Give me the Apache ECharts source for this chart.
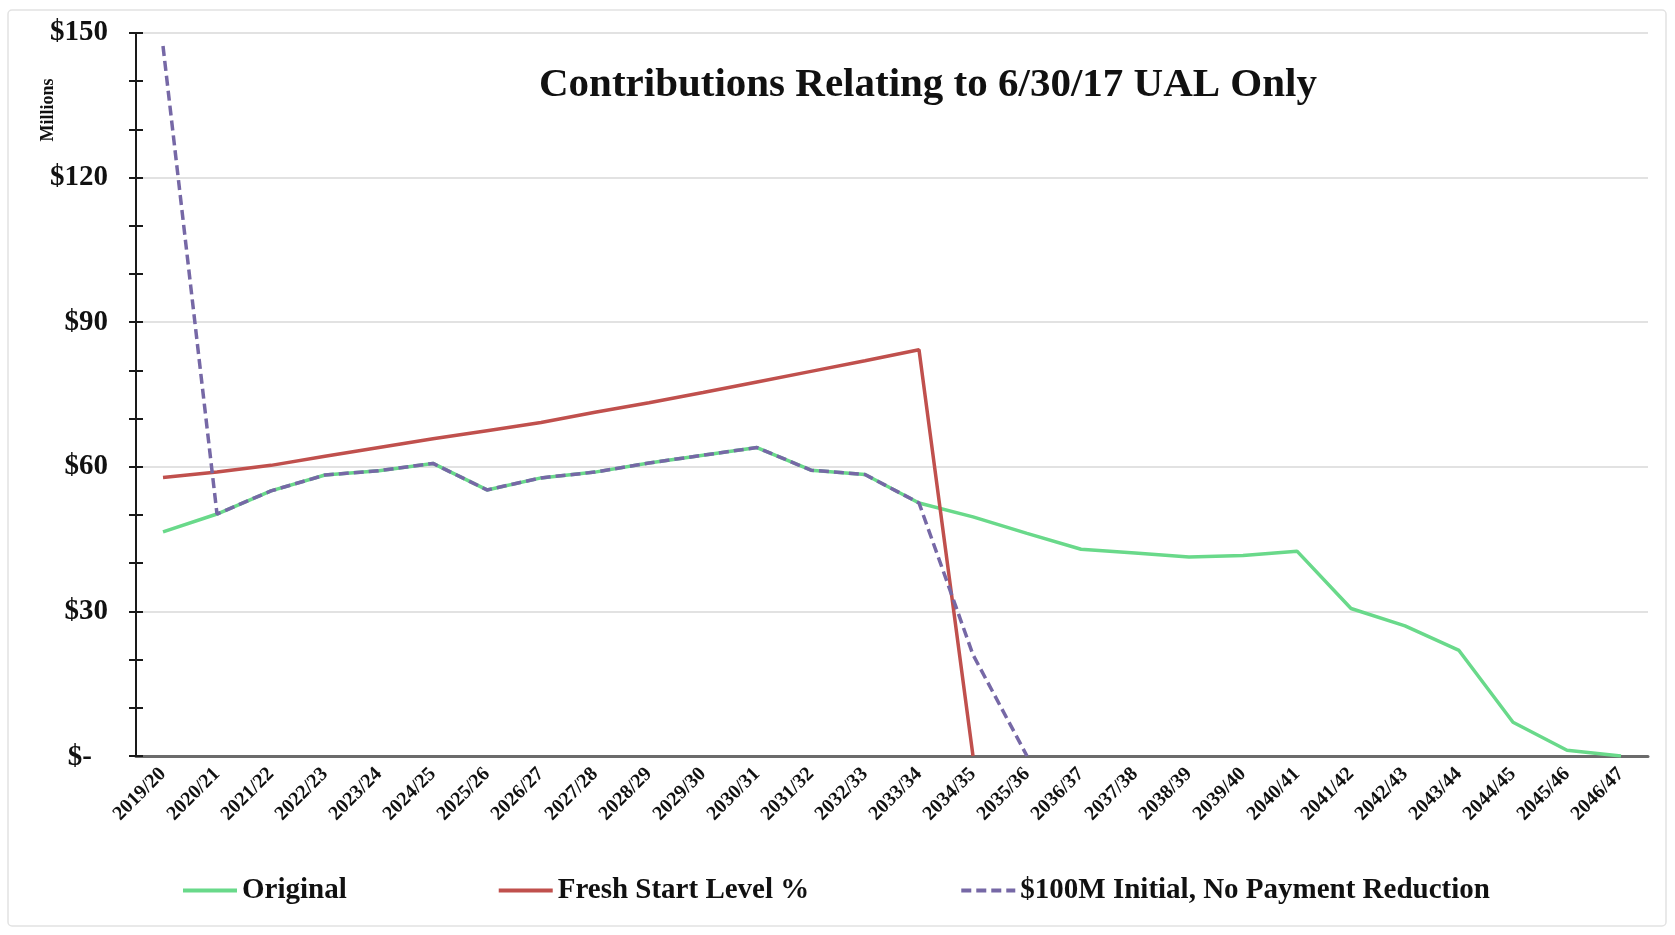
<!DOCTYPE html>
<html>
<head>
<meta charset="utf-8">
<script src="https://cdn.jsdelivr.net/npm/echarts@6/dist/echarts.min.js"></script>
<style>
  html, body { margin: 0; padding: 0; background: #ffffff; }
  #chart { width: 1675px; height: 935px; }
</style>
</head>
<body>
<div id="chart"></div>
<script>
// Fiscal years on the horizontal axis
const categories = [
  '2019/20', '2020/21', '2021/22', '2022/23', '2023/24', '2024/25', '2025/26',
  '2026/27', '2027/28', '2028/29', '2029/30', '2030/31', '2031/32', '2032/33',
  '2033/34', '2034/35', '2035/36', '2036/37', '2037/38', '2038/39', '2039/40',
  '2040/41', '2041/42', '2042/43', '2043/44', '2044/45', '2045/46', '2046/47'
];

// Contributions, $ millions
const original = [
  46.5, 50.2, 55.0, 58.3, 59.2, 60.7, 55.2, 57.7, 58.9, 60.8, 62.4, 64.0, 59.3, 58.4,
  52.5, 49.6, 46.2, 42.9, 42.1, 41.3, 41.6, 42.5, 30.6, 27.0, 21.9, 7.0, 1.2, 0.0
];
const freshStart = [
  57.8, 58.9, 60.3, 62.2, 64.0, 65.8, 67.5, 69.2, 71.3, 73.3, 75.4, 77.6, 79.8, 82.0,
  84.3, 0.0, null, null, null, null, null, null, null, null, null, null, null, null
];
const initial100M = [
  147.3, 50.2, 55.0, 58.3, 59.2, 60.7, 55.2, 57.7, 58.9, 60.8, 62.4, 64.0, 59.3, 58.4,
  52.5, 21.0, 0.0, null, null, null, null, null, null, null, null, null, null, null
];

// Value-axis tick labels (0, 30, 60, 90, 120, 150)
const yTickValues = [0, 30, 60, 90, 120, 150];
const yTickLabels = ['$-', '$30', '$60', '$90', '$120', '$150'];

const seriesNames = ['Original', 'Fresh Start Level %', '$100M Initial, No Payment Reduction'];

const serif = '"Liberation Serif", "Times New Roman", serif';

const chart = echarts.init(document.getElementById('chart'));

const yCommon = {
  type: 'value',
  min: 0,
  max: 150,
  interval: 30
};

chart.setOption({
  backgroundColor: '#ffffff',
  animation: false,
  title: {
    text: 'Contributions Relating to 6/30/17 UAL Only',
    left: 534,
    top: 60,
    textStyle: { fontFamily: serif, fontWeight: 'bold', fontSize: 41, color: '#111111' }
  },
  graphic: [
    {
      type: 'rect',
      shape: { x: 8, y: 10, width: 1658, height: 916, r: 4 },
      style: { fill: 'none', stroke: '#e2e2e2', lineWidth: 1.5 },
      silent: true,
      z: -1
    },
    {
      type: 'text',
      x: 48,
      y: 110,
      rotation: Math.PI / 2,
      style: {
        text: 'Millions',
        fontFamily: serif,
        fontWeight: 'bold',
        fontSize: 18,
        fill: '#111111',
        align: 'center',
        verticalAlign: 'middle'
      }
    }
  ],
  legend: {
    data: seriesNames,
    left: 176,
    top: 871,
    itemWidth: 54,
    itemHeight: 14,
    itemGap: 150,
    itemStyle: { opacity: 0 },
    lineStyle: { width: 4 },
    textStyle: { fontFamily: serif, fontWeight: 'bold', fontSize: 29, color: '#111111' }
  },
  grid: {
    left: 136,
    right: 27,
    top: 33,
    bottom: 179,
    containLabel: false
  },
  xAxis: {
    type: 'category',
    data: categories,
    boundaryGap: true,
    axisLine: { show: true, lineStyle: { color: '#6b6b6b', width: 3 } },
    axisTick: { show: false },
    axisLabel: {
      interval: 0,
      rotate: 45,
      margin: 15,
      fontFamily: serif,
      fontWeight: 'bold',
      fontSize: 20,
      color: '#111111'
    }
  },
  yAxis: [
    Object.assign({}, yCommon, {
      position: 'left',
      axisLine: { show: true, lineStyle: { color: '#1a1a1a', width: 2 } },
      axisTick: { show: true, length: 7, lineStyle: { color: '#1a1a1a', width: 2 } },
      minorTick: { show: true, splitNumber: 3, length: 7, lineStyle: { color: '#1a1a1a', width: 2 } },
      splitLine: { show: true, lineStyle: { color: '#d9d9d9', width: 1.5 } },
      axisLabel: {
        margin: 28,
        fontFamily: serif,
        fontWeight: 'bold',
        fontSize: 29,
        color: '#111111',
        formatter: function (v) {
          const label = yTickLabels[yTickValues.indexOf(v)];
          return v === 0 ? '{z|' + label + '}' : label;
        },
        rich: {
          z: { fontFamily: serif, fontWeight: 'bold', fontSize: 29, color: '#111111', padding: [4, 16, 0, 0] }
        }
      }
    }),
    // Inner half of the crossing tick marks on the value axis
    Object.assign({}, yCommon, {
      position: 'left',
      axisLine: { show: false },
      axisTick: { show: true, inside: true, length: 7, lineStyle: { color: '#1a1a1a', width: 2 } },
      minorTick: { show: true, splitNumber: 3, length: 7, lineStyle: { color: '#1a1a1a', width: 2 } },
      splitLine: { show: false },
      axisLabel: { show: false }
    })
  ],
  series: [
    {
      name: seriesNames[0],
      type: 'line',
      data: original,
      symbol: 'none',
      connectNulls: false,
      lineStyle: { color: '#69d98a', width: 3.5 },
      itemStyle: { color: '#69d98a' },
      z: 2
    },
    {
      name: seriesNames[1],
      type: 'line',
      data: freshStart,
      symbol: 'none',
      connectNulls: false,
      lineStyle: { color: '#c0504d', width: 3.5 },
      itemStyle: { color: '#c0504d' },
      z: 3
    },
    {
      name: seriesNames[2],
      type: 'line',
      data: initial100M,
      symbol: 'none',
      connectNulls: false,
      lineStyle: { color: '#7668a6', width: 3.5, type: [10, 5] },
      itemStyle: { color: '#7668a6' },
      z: 4
    }
  ]
});
</script>
</body>
</html>
